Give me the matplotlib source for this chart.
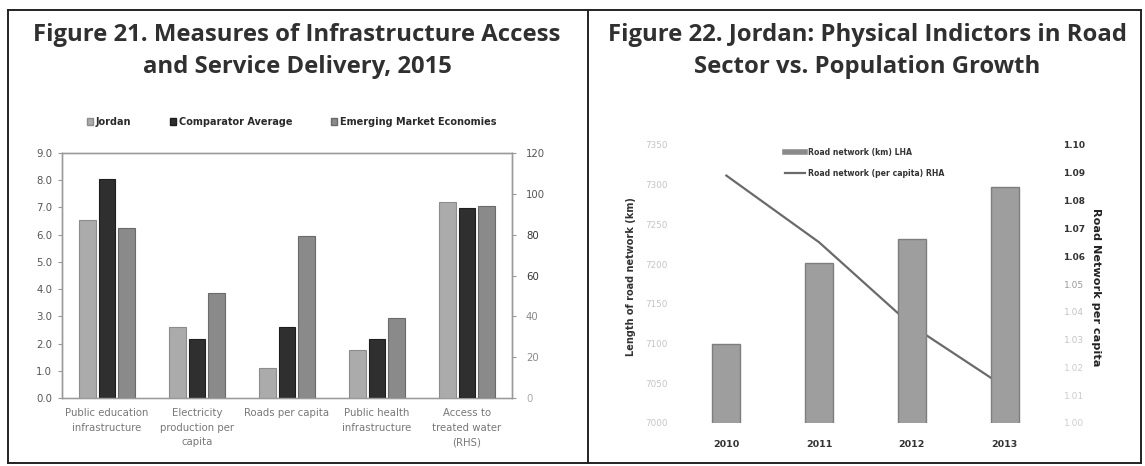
import matplotlib
matplotlib.use("Agg")
import matplotlib.pyplot as plt
from matplotlib.lines import Line2D
from matplotlib.patches import Patch
import numpy as np

# ---- Figure 21 data ----
categories21 = ["Public education\ninfrastructure", "Electricity\nproduction per\ncapita",
                "Roads per capita", "Public health\ninfrastructure",
                "Access to\ntreated water\n(RHS)"]
series21 = ["Jordan", "Comparator Average", "Emerging Market Economies"]
jordan = [6.55, 2.6, 1.1, 1.75]
comparator = [8.05, 2.15, 2.6, 2.15]
emerging = [6.25, 3.85, 5.95, 2.95]
water_rhs = [96, 93, 94]  # Jordan, Comparator, EME on the right axis

# ---- Figure 22 data ----
years = ["2010", "2011", "2012", "2013"]
road_km = [7099, 7202, 7232, 7297]
road_per_capita = [1.089, 1.065, 1.035, 1.013]

W, H = 1145, 466
fig = plt.figure(figsize=(W / 100, H / 100), dpi=100)
fig.patch.set_facecolor("white")


def rect(l, t, r, b):
    return [l / W, 1 - b / H, (r - l) / W, (b - t) / H]


title_kw = dict(family="Open Sans", weight="bold", fontsize=17.2, color="#303030",
                ha="center", va="center", linespacing=1.45)
fig.text(297 / W, 1 - 51 / H, "Figure 21. Measures of Infrastructure Access\nand Service Delivery, 2015",
         **title_kw)
fig.text(867 / W, 1 - 51 / H, "Figure 22. Jordan: Physical Indictors in Road\nSector vs. Population Growth",
         **title_kw)

# panel frames
frame_kw = dict(color="#222222", lw=1.4, transform=fig.transFigure)
for x in (8, 588, 1141):
    fig.add_artist(Line2D([x / W, x / W], [1 - 10 / H, 1 - 463 / H], **frame_kw))
for y in (10, 463):
    fig.add_artist(Line2D([8 / W, 1141 / W], [1 - y / H, 1 - y / H], **frame_kw))

# ---------------- Figure 21 ----------------
colors21 = ["#ababab", "#2f2f2f", "#8a8a8a"]
edges21 = ["#8c8c8c", "#1e1e1e", "#6a6a6a"]
ax = fig.add_axes(rect(62, 153, 512, 398))
ax2 = ax.twinx()
x = np.arange(len(categories21))
w = 0.18
step = 0.217
left_vals = [jordan, comparator, emerging]
handles = []
for i, (vals, c, ec) in enumerate(zip(left_vals, colors21, edges21)):
    ax.bar(x[:4] + (i - 1) * step, vals, width=w, color=c, edgecolor=ec, lw=0.8,
           label=series21[i], zorder=3)
    ax2.bar(x[4] + (i - 1) * step, water_rhs[i], width=w, color=c, edgecolor=ec, lw=0.8,
            zorder=3)
    handles.append(Patch(facecolor=c, edgecolor=ec))

ax.set_xlim(-0.5, 4.5)
ax.set_ylim(0, 9)
ax2.set_ylim(0, 120)
ax.set_yticks(np.arange(0, 9.1, 1.0))
ax.set_yticklabels([f"{v:.1f}" for v in np.arange(0, 9.1, 1.0)])
ax2.set_yticks(np.arange(0, 121, 20))
ax.set_xticks(x)
ax.set_xticklabels(categories21, fontsize=7.3, color="#777777", linespacing=1.6)
ax.tick_params(axis="x", length=0, pad=7)
ax.tick_params(axis="y", labelsize=7.3, labelcolor="#555555", length=3, color="#999999", pad=4)
ax2.tick_params(axis="y", labelsize=7.3, length=3, color="#999999", pad=7)
for lbl, col in zip(ax2.get_yticklabels(), ["#aaaaaa", "#888888", "#888888", "#333333", "#333333",
                                              "#555555", "#555555"]):
    lbl.set_color(col)
for a in (ax, ax2):
    for s in a.spines.values():
        s.set_color("#9a9a9a")
        s.set_linewidth(1.0)
ax.spines["bottom"].set_color("#c8c8c8")
ax.spines["top"].set_color("#a8a8a8")

fig.legend(handles, series21, loc="center left", bbox_to_anchor=(78 / W, 1 - 122 / H),
           ncol=3, frameon=False, handlelength=0.6, handleheight=0.6,
           handletextpad=0.3, columnspacing=4.0,
           prop=dict(size=7.0, weight="bold"), labelcolor="#2a2a2a")

# ---------------- Figure 22 ----------------
axb = fig.add_axes(rect(680, 145, 1051, 423))
axl = axb.twinx()
axb.set_zorder(axl.get_zorder() + 1)
axb.patch.set_visible(False)

xr = np.arange(len(years))
axb.bar(xr, road_km, width=0.3, bottom=0, color="#9e9e9e", edgecolor="#7e7e7e", lw=1.0)
axl.plot(xr, road_per_capita, color="#6a6a6a", lw=1.6)

axb.set_xlim(-0.5, 3.5)
axb.set_ylim(7000, 7350)
axl.set_ylim(1.00, 1.10)
axb.set_yticks(np.arange(7000, 7351, 50))
axl.set_yticks(np.round(np.arange(1.00, 1.101, 0.01), 2))
axl.set_yticklabels([f"{v:.2f}" for v in np.arange(1.00, 1.101, 0.01)])
axb.set_xticks(xr)
axb.set_xticklabels(years, fontsize=6.8, weight="bold", color="#333333")
axb.tick_params(axis="x", length=0, pad=12)
axb.tick_params(axis="y", length=0, labelsize=6.3, labelcolor="#c4c4c4", pad=9)
axl.tick_params(axis="y", length=0, labelsize=6.5, pad=9)
right_cols = ["#cccccc", "#cccccc", "#cccccc", "#c4c4c4", "#c4c4c4", "#999999",
              "#333333", "#333333", "#333333", "#333333", "#333333"]
for lbl, col in zip(axl.get_yticklabels(), right_cols):
    lbl.set_color(col)
    if col == "#333333":
        lbl.set_fontweight("bold")
for a in (axb, axl):
    for s in a.spines.values():
        s.set_visible(False)

fig.text(631 / W, 1 - 277 / H, "Length of road network (km)", rotation=90, fontsize=7,
         weight="bold", color="#333333", ha="center", va="center")
fig.text(1096 / W, 1 - 287 / H, "Road Network per capita", rotation=270, fontsize=8.1,
         weight="bold", color="#222222", ha="center", va="center")

leg_handles = [Line2D([0], [0], color="#8a8a8a", lw=4),
               Line2D([0], [0], color="#6a6a6a", lw=1.6)]
fig.legend(leg_handles, ["Road network (km) LHA", "Road network (per capita) RHA"],
           loc="center left", bbox_to_anchor=(778 / W, 1 - 163 / H), frameon=False,
           prop=dict(size=5.6, weight="bold"), handlelength=2.6, handletextpad=0.3,
           labelspacing=1.5, labelcolor="#333333")

fig.savefig("out.png", dpi=100, facecolor="white")
